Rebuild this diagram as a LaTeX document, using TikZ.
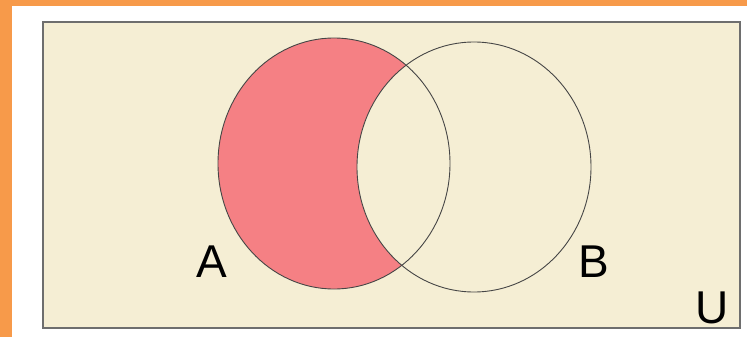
\documentclass[tikz,border=0pt]{standalone}
\usepackage{fontspec}
\setmainfont{Liberation Sans}
\definecolor{frameorange}{RGB}{247,154,74}
\definecolor{univbeige}{RGB}{245,238,212}
\definecolor{setpink}{RGB}{245,128,132}
\definecolor{rimgray}{RGB}{110,110,110}
\definecolor{circgray}{RGB}{70,70,70}
\begin{document}
\begin{tikzpicture}[x=1pt,y=-1pt,
  setlabel/.style={font=\fontsize{46}{46}\selectfont, inner sep=0pt, text=black}]
\useasboundingbox (0,0) rectangle (747,337);
\fill[frameorange] (0,0) rectangle (747,337);
\fill[white] (12,6) rectangle (747,337);
\draw[rimgray, line width=1.5pt, fill=univbeige] (43,22) rectangle (740,328);
\fill[setpink] (334,163.5) ellipse [x radius=116, y radius=125.5];
\fill[univbeige] (474,167) ellipse [x radius=117, y radius=125];
\draw[circgray, line width=0.9pt] (334,163.5) ellipse [x radius=116, y radius=125.5];
\draw[circgray, line width=0.9pt] (474,167) ellipse [x radius=117, y radius=125];
\node[setlabel] (labA) at (212,262) {A};
\node[setlabel] (labB) at (594,262) {B};
\node[setlabel] (labU) at (712,308) {U};
\end{tikzpicture}
\end{document}
